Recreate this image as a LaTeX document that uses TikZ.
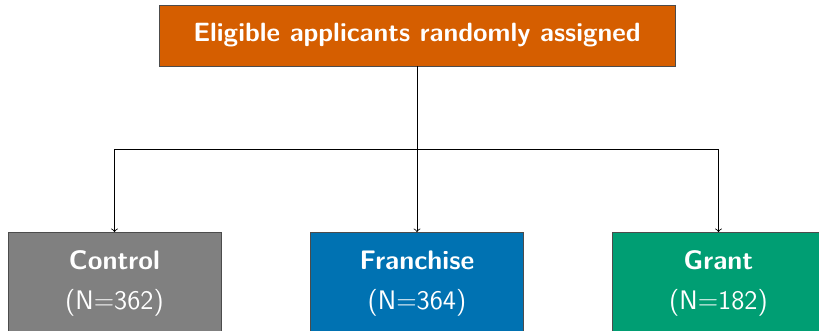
\documentclass[tikz,border=0pt]{standalone}
\usepackage{tikz}

\definecolor{vermilion}{HTML}{D55E00}
\definecolor{ctrlgray}{HTML}{808080}
\definecolor{franblue}{HTML}{0072B2}
\definecolor{grantgreen}{HTML}{009E73}

\tikzset{
  armbox/.style={draw=black!70, text=white, align=center, font=\sffamily\fontsize{13.4}{16}\selectfont,
    minimum width=106.5pt, minimum height=51pt, inner sep=0pt},
}

\begin{document}
\begin{tikzpicture}[x=0.5pt,y=0.5pt]

\useasboundingbox (0,0) rectangle (819,331);
\clip (0,0) rectangle (819,331);

\node[draw=black!70, fill=vermilion, text=white, font=\sffamily\bfseries\fontsize{13.2}{16}\selectfont,
  minimum width=258pt, minimum height=30.5pt, inner sep=0pt] (top) at (417,295.5)
  {Eligible applicants randomly assigned};

\coordinate (split) at (417,182);

\node[armbox, fill=ctrlgray] (ctrl) at (114.5,47.5) {\textbf{Control}\\[4pt](N=362)};
\node[armbox, fill=franblue] (fran) at (417,47.5) {\textbf{Franchise}\\[4pt](N=364)};
\node[armbox, fill=grantgreen] (grant) at (718.5,47.5) {\textbf{Grant}\\[4pt](N=182)};

\draw (top.south) -- (split);
\draw[->] (split) -| (ctrl.north);
\draw[->] (split) -- (fran.north);
\draw[->] (split) -| (grant.north);

\end{tikzpicture}
\end{document}
